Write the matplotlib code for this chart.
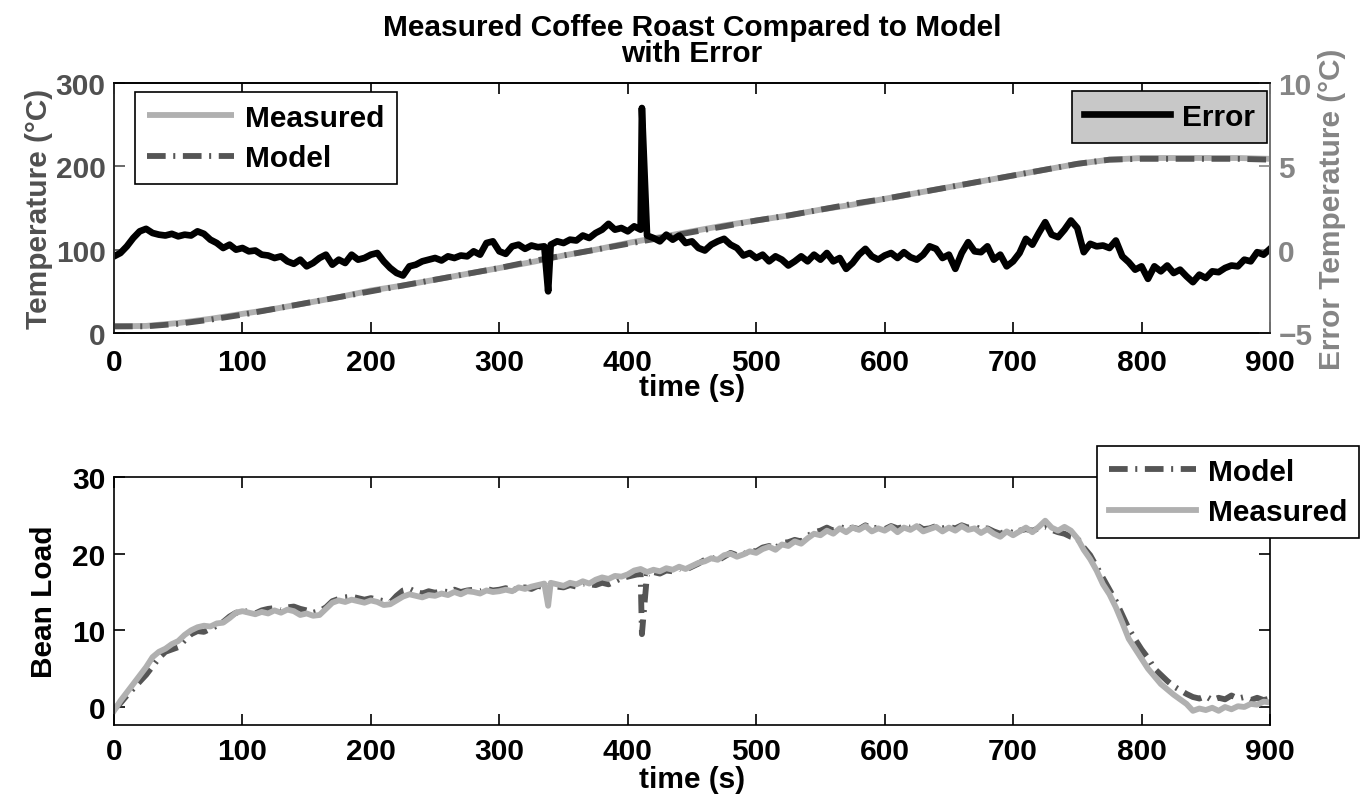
import numpy as np
import matplotlib
matplotlib.use('Agg')
import matplotlib.pyplot as plt

plt.rcParams['font.family'] = ['Liberation Sans', 'DejaVu Sans']
plt.rcParams['font.weight'] = 'bold'
plt.rcParams['axes.labelweight'] = 'bold'
plt.rcParams['axes.titleweight'] = 'bold'

# ---- data -------------------------------------------------------------
# temperature, sampled every 25 s
temp_t = np.arange(0, 901, 25)
temp_meas = [8, 8.5, 12, 17, 23, 29, 36, 43, 51, 57, 64, 71, 78, 85, 93, 100,
             108, 115, 122, 129, 135, 141, 148, 154, 161, 168, 175, 182, 189,
             196, 203, 208, 210, 210, 210, 210, 209]
temp_model = [8, 8, 11, 16, 22, 29, 36, 43, 50, 57, 64, 71, 78, 86, 93, 100,
              107, 114, 121, 128, 135, 141, 148, 155, 161, 168, 175, 182, 189,
              196, 203, 208, 209, 209, 209, 209, 208]

# temperature error (C), sampled every 5 s
err_t = np.arange(0, 901, 5)
err = [-0.4, -0.2, 0.2, 0.7, 1.1, 1.25, 1.0, 0.9, 0.85, 0.95,
       0.8, 0.9, 0.85, 1.1, 0.95, 0.6, 0.4, 0.1, 0.3, 0.0,
       0.1, -0.1, -0.05, -0.3, -0.35, -0.5, -0.4, -0.7, -0.85, -0.6,
       -1.0, -0.8, -0.5, -0.3, -0.9, -0.6, -0.8, -0.3, -0.6, -0.5,
       -0.3, -0.2, -0.7, -1.1, -1.4, -1.55, -1.0, -0.9, -0.7, -0.6,
       -0.5, -0.65, -0.4, -0.5, -0.35, -0.4, -0.1, -0.3, 0.4, 0.5,
       -0.1, -0.25, 0.2, 0.3, 0.05, 0.25, 0.15, 0.2, 0.3, 0.5,
       0.4, 0.6, 0.55, 0.85, 0.7, 1.0, 1.2, 1.55, 1.2, 1.3,
       1.1, 1.4, 1.2, 0.85, 0.7, 0.5, 0.9, 0.6, 0.85, 0.4,
       0.5, 0.1, -0.05, 0.3, 0.5, 0.65, 0.3, 0.1, -0.35, -0.2,
       -0.5, -0.3, -0.7, -0.4, -0.6, -0.95, -0.7, -0.4, -0.7, -0.3,
       -0.6, -0.2, -0.7, -0.5, -1.15, -0.8, -0.3, 0.05, -0.4, -0.6,
       -0.35, -0.2, -0.5, -0.15, -0.45, -0.6, -0.3, 0.2, 0.05, -0.5,
       -0.3, -1.15, -0.2, 0.45, -0.1, -0.15, 0.2, -0.6, -0.3, -1.0,
       -0.7, -0.2, 0.65, 0.3, 1.0, 1.65, 0.9, 0.75, 1.2, 1.75,
       1.3, -0.15, 0.35, 0.2, 0.25, 0.1, 0.55, -0.4, -0.75, -1.2,
       -1.0, -1.75, -1.0, -1.3, -0.95, -1.4, -1.2, -1.6, -1.95, -1.5,
       -1.7, -1.3, -1.35, -1.1, -0.95, -1.0, -0.6, -0.7, -0.15, -0.3,
       0.05]
err_spike_t = [338, 411]
err_spike = [-2.5, 8.5]

# bean load, sampled every 5 s
load_t = np.arange(0, 901, 5)
load_meas = [-0.5, 0.8, 1.9, 3.0, 4.1, 5.2, 6.5, 7.2, 7.6, 8.2,
             8.6, 9.4, 10.0, 10.4, 10.6, 10.5, 10.9, 11.0, 11.6, 12.3,
             12.5, 12.3, 12.1, 12.4, 12.2, 12.6, 12.3, 12.7, 12.5, 12.0,
             12.2, 11.9, 12.0, 12.8, 13.6, 13.9, 13.7, 14.0, 13.8, 13.6,
             13.9, 13.7, 13.3, 13.4, 13.9, 14.4, 14.7, 14.5, 14.3, 14.6,
             14.5, 14.8, 14.6, 15.0, 14.7, 15.1, 15.0, 14.8, 15.2, 15.0,
             15.1, 15.3, 15.1, 15.6, 15.4, 15.7, 15.9, 16.1, 16.2, 16.0,
             15.8, 16.2, 16.0, 16.4, 16.1, 16.6, 16.9, 16.7, 17.1, 17.0,
             17.3, 17.8, 18.0, 17.6, 17.9, 17.7, 18.1, 17.9, 18.3, 18.0,
             18.4, 18.8, 19.0, 19.4, 19.2, 19.8, 20.0, 19.6, 19.9, 20.3,
             20.1, 20.6, 20.9, 20.5, 21.2, 21.0, 21.6, 21.3, 22.0, 22.6,
             22.4, 23.0, 22.6, 23.3, 22.8, 23.4, 23.1, 23.6, 22.9, 23.3,
             23.0, 23.5, 22.8, 23.4, 23.1, 23.6, 22.9, 23.2, 23.5, 22.9,
             23.4, 23.0, 23.6, 23.1, 23.3, 22.7, 23.2, 22.6, 22.2, 22.9,
             22.4, 22.9, 23.4, 22.8, 23.5, 24.3, 23.4, 23.0, 23.5, 23.0,
             22.0, 20.5, 19.3, 17.8, 16.0, 14.7, 13.0, 11.0, 8.9, 7.6,
             6.3, 5.0, 4.0, 3.0, 2.3, 1.6, 1.0, 0.4, -0.5, -0.2,
             -0.4, -0.1, -0.5, 0.0, -0.3, 0.1, 0.0, 0.4, 0.3, 0.7,
             0.6]
load_model = [-0.3, 0.5, 1.5, 2.4, 3.3, 4.2, 5.3, 6.4, 7.2, 7.5,
              7.8, 8.7, 9.5, 9.9, 9.8, 10.2, 10.6, 11.1, 11.8, 12.3,
              12.4, 12.5, 12.2, 12.6, 12.8, 12.9, 12.6, 13.0, 13.1, 12.8,
              12.6, 12.3, 12.5, 13.0, 13.8, 14.1, 14.3, 14.4, 14.2, 14.0,
              14.2, 14.0, 13.8, 13.6, 14.5, 15.2, 15.4, 15.0, 14.8, 15.1,
              14.9, 15.1, 15.0, 15.3, 15.0, 15.2, 15.3, 15.1, 15.4, 15.2,
              15.3, 15.5, 15.2, 15.5, 15.6, 15.4, 15.8, 15.6, 15.9, 15.7,
              15.6, 15.9, 15.7, 16.1, 16.0, 15.9, 16.2, 16.0, 16.4, 16.8,
              17.0, 17.2, 17.4, 17.3, 17.6, 17.4, 17.8, 17.7, 18.1, 17.9,
              18.3, 18.7, 19.2, 19.5, 19.1, 19.6, 20.1, 19.8, 19.9, 20.4,
              20.3, 20.8, 21.0, 20.7, 21.4, 21.5, 21.8, 21.6, 22.3, 22.8,
              23.0, 23.4, 23.0, 23.5, 23.2, 23.4, 23.2, 23.7, 23.3, 23.4,
              23.2, 23.6, 23.3, 23.5, 23.4, 23.7, 23.2, 23.3, 23.6, 23.3,
              23.5, 23.3, 23.7, 23.4, 23.5, 23.2, 23.3, 22.9, 22.6, 23.0,
              22.7, 23.0, 23.2, 23.0, 23.3, 23.5, 23.1, 22.8, 22.6, 22.2,
              22.0, 20.8, 19.8, 18.3, 16.8, 15.3, 13.8, 12.0, 10.2, 8.8,
              7.5, 6.4, 5.0, 4.2, 3.4, 2.7, 2.2, 1.7, 1.3, 1.1,
              1.4, 0.9, 1.2, 1.0, 1.5, 1.1, 1.3, 0.9, 1.2, 0.9,
              1.1]
load_meas_spike_t = [338]
load_meas_spike = [13.2]
load_model_spike_t = [411]
load_model_spike = [9.5]

xticks = np.arange(0, 901, 100)


def with_spikes(t, v, st, sv):
    tt = np.concatenate([np.asarray(t, float), np.asarray(st, float)])
    vv = np.concatenate([np.asarray(v, float), np.asarray(sv, float)])
    order = np.argsort(tt, kind='stable')
    return tt[order], vv[order]


# ---- styling ----------------------------------------------------------
W, H = 1367, 804
FS = 21.5
meas_color = '#b0b0b0'
model_color = '#555555'
left_color = '#505050'
right_color = '#858585'
model_ls = (0, (3.2, 1.3, 0.35, 1.3))
LW = 4.2

fig = plt.figure(figsize=(W / 100, H / 100), dpi=100)
ax1 = fig.add_axes([114 / W, 1 - 334 / H, 1156 / W, 250 / H])
ax2 = ax1.twinx()
ax3 = fig.add_axes([114 / W, 1 - 726 / H, 1156 / W, 248 / H])

# ---- top: temperature + error -----------------------------------------
l_meas, = ax1.plot(temp_t, temp_meas, color=meas_color, lw=LW, solid_capstyle='butt', label='Measured')
l_model, = ax1.plot(temp_t, temp_model, color=model_color, lw=LW, ls=model_ls,
                    dash_capstyle='butt', label='Model')
et, ev = with_spikes(err_t, err, err_spike_t, err_spike)
l_err, = ax2.plot(et, ev, color='black', lw=4.8, solid_joinstyle='round', label='Error')

ax1.set_xlim(0, 900)
ax1.set_ylim(0, 300)
ax2.set_ylim(-5, 10)
ax1.set_xticks(xticks)
ax1.set_yticks([0, 100, 200, 300])
ax2.set_yticks([-5, 0, 5, 10])

ax1.tick_params(axis='x', direction='in', length=8, width=1.2, top=True, labelsize=FS, pad=11)
ax1.tick_params(axis='y', direction='in', length=8, width=1.2, right=False,
                labelsize=FS, colors=left_color, pad=6)
ax2.tick_params(axis='y', direction='in', length=8, width=1.2, labelsize=FS,
                colors=right_color, pad=6)
for ax in (ax1, ax2):
    for s in ax.spines.values():
        s.set_linewidth(1.2)
ax2.spines['right'].set_color(right_color)
ax2.spines['left'].set_color('#303030')

ax1.set_xlabel('time (s)', fontsize=FS, labelpad=-2)
ax1.set_ylabel('Temperature (°C)', fontsize=FS, color=left_color, labelpad=2)
ax2.set_ylabel('Error Temperature (°C)', fontsize=FS, color=right_color, labelpad=4)
ax1.set_title('Measured Coffee Roast Compared to Model\nwith Error', fontsize=FS,
              pad=16, linespacing=0.9)

leg_kw = dict(fontsize=FS, fancybox=False, framealpha=1, edgecolor='black',
              handlelength=2.9, handletextpad=0.4, borderaxespad=0, borderpad=0.4,
              labelspacing=0.42, bbox_transform=fig.transFigure)
leg1 = ax1.legend(handles=[l_meas, l_model], loc='upper left',
                  bbox_to_anchor=(135 / W, 1 - 93 / H), **leg_kw)
leg2 = ax2.legend(handles=[l_err], loc='upper right', facecolor='#c8c8c8',
                  bbox_to_anchor=(1267 / W, 1 - 92 / H), **leg_kw)
for lg in (leg1, leg2):
    lg.get_frame().set_linewidth(1.2)

# ---- bottom: bean load ------------------------------------------------
mt, mv = with_spikes(load_t, load_model, load_model_spike_t, load_model_spike)
b_model, = ax3.plot(mt, mv, color=model_color, lw=LW, ls=model_ls,
                    dash_capstyle='butt', label='Model')
st, sv = with_spikes(load_t, load_meas, load_meas_spike_t, load_meas_spike)
b_meas, = ax3.plot(st, sv, color=meas_color, lw=LW, label='Measured')

ax3.set_xlim(0, 900)
ax3.set_ylim(-2.35, 30)
ax3.set_xticks(xticks)
ax3.set_yticks([0, 10, 20, 30])
ax3.tick_params(direction='in', length=8, width=1.2, top=True, right=True,
                labelsize=FS, pad=6)
ax3.tick_params(axis='x', pad=9)
for s in ax3.spines.values():
    s.set_linewidth(1.2)
ax3.set_xlabel('time (s)', fontsize=FS, labelpad=0)
ax3.set_ylabel('Bean Load', fontsize=FS, labelpad=10)
leg3 = ax3.legend(handles=[b_model, b_meas], loc='upper right',
                  bbox_to_anchor=(1359 / W, 1 - 447 / H), **leg_kw)
leg3.get_frame().set_linewidth(1.2)

fig.savefig('out.png', dpi=100)
